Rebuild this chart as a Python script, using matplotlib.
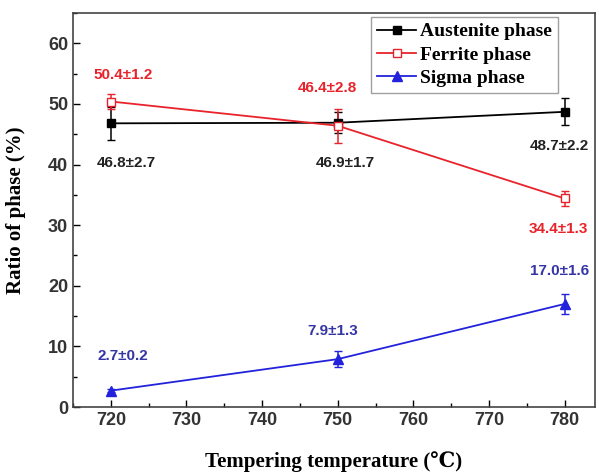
import matplotlib.pyplot as plt
from matplotlib.lines import Line2D
from matplotlib.ticker import MultipleLocator

temps = [720, 750, 780]
austenite = [46.8, 46.9, 48.7]
austenite_err = [2.7, 1.7, 2.2]
ferrite = [50.4, 46.4, 34.4]
ferrite_err = [1.2, 2.8, 1.3]
sigma = [2.7, 7.9, 17.0]
sigma_err = [0.2, 1.3, 1.6]
names = ['Austenite phase', 'Ferrite phase', 'Sigma phase']

# where each value label sits (x, y)
aus_labels = [(722.0, 40.3), (751.0, 40.3), (779.3, 43.1)]
fer_labels = [(721.6, 54.7), (748.6, 52.6), (779.2, 29.4)]
sig_labels = [(721.6, 8.4), (749.3, 12.6), (779.3, 22.5)]

red = '#e8232b'
blue = '#2222dd'
serif = ['Liberation Serif', 'DejaVu Serif']
sans = ['Liberation Sans', 'DejaVu Sans']

fig = plt.figure(figsize=(5.99, 4.73), dpi=100)
ax = fig.add_axes([0.122, 0.1395, 0.871, 0.833])

styles = [
    dict(color='black', marker='s', ms=5.5, mfc='black', mec='black'),
    dict(color=red, marker='s', ms=5.5, mfc='white', mec=red),
    dict(color=blue, marker='^', ms=6.5, mfc=blue, mec=blue),
]
series = [(austenite, austenite_err), (ferrite, ferrite_err), (sigma, sigma_err)]
for (vals, errs), st in zip(series, styles):
    ax.errorbar(temps, vals, yerr=errs, lw=1.3, capsize=3, elinewidth=1.1, **st)

label_sets = [(austenite, austenite_err, aus_labels, '#222222'),
              (ferrite, ferrite_err, fer_labels, red),
              (sigma, sigma_err, sig_labels, '#3535a5')]
for vals, errs, pos, c in label_sets:
    for v, e, (x, y) in zip(vals, errs, pos):
        ax.text(x, y, '%.1f±%.1f' % (v, e), color=c, fontsize=11,
                fontweight='bold', family=sans, ha='center', va='center')

ax.set_xlim(715, 784)
ax.set_ylim(0, 65)
ax.xaxis.set_major_locator(MultipleLocator(10))
ax.xaxis.set_minor_locator(MultipleLocator(5))
ax.yaxis.set_major_locator(MultipleLocator(10))
ax.yaxis.set_minor_locator(MultipleLocator(5))
ax.tick_params(which='both', direction='in', top=False, right=False)
ax.tick_params(which='major', length=5, width=1, labelsize=13)
ax.tick_params(which='minor', length=3, width=1)
for lab in ax.get_xticklabels() + ax.get_yticklabels():
    lab.set_fontweight('bold')
    lab.set_family(sans)
    lab.set_color('#333333')
for s in ax.spines.values():
    s.set_linewidth(1.2)
    s.set_color('#444444')

ax.set_xlabel('Tempering temperature (℃)', fontsize=15, fontweight='bold',
              family=serif, labelpad=16)
ax.set_ylabel('Ratio of phase (%)', fontsize=15, fontweight='bold',
              family=serif, labelpad=16)

handles = [Line2D([], [], lw=1.3, **st) for st in styles]
leg = ax.legend(handles, names, loc='upper right', bbox_to_anchor=(0.929, 0.99),
                borderaxespad=0,
                prop={'family': serif, 'weight': 'bold', 'size': 14},
                handlelength=2.0, handletextpad=0.2, borderpad=0.3,
                labelspacing=0.3, fancybox=False, edgecolor='#888888')
leg.get_frame().set_linewidth(1.0)

fig.savefig('out.png', dpi=100)
